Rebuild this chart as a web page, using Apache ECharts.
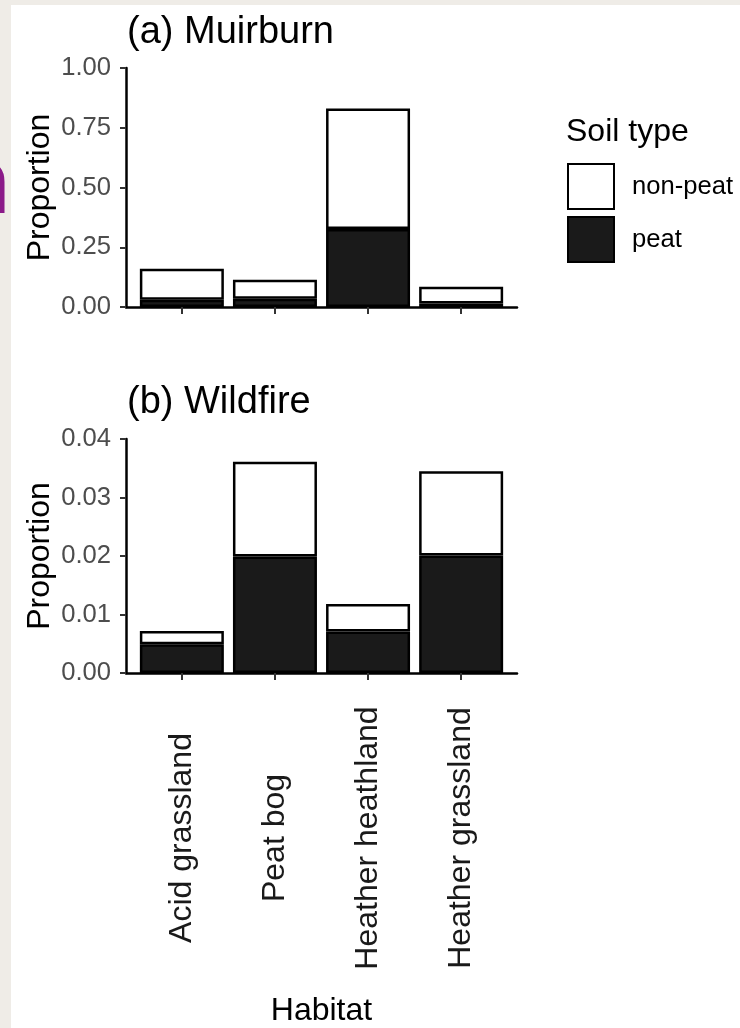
<!DOCTYPE html>
<html>
<head>
<meta charset="utf-8">
<script src="https://cdn.jsdelivr.net/npm/echarts@6/dist/echarts.min.js"></script>
<style>
    html, body { margin: 0; padding: 0; background: #efece7; }
    #paper { position: absolute; left: 11px; top: 5px; width: 729px; height: 1023px; background: #fff; }
    #chart { position: absolute; left: 0; top: 0; width: 740px; height: 1028px; }
</style>
</head>
<body>
<div id="paper"></div>
<div id="chart"></div>
<script>
var habitats = ['Acid grassland', 'Peat bog', 'Heather heathland', 'Heather grassland'];
var positions = [1, 2, 3, 4];

// (a) Muirburn, proportion of area
var muirburnPeat = [0.030, 0.035, 0.326, 0.015];
var muirburnNonPeat = [0.130, 0.079, 0.505, 0.070];

// (b) Wildfire
var wildfirePeat = [0.0049, 0.0199, 0.0071, 0.0201];
var wildfireNonPeat = [0.0023, 0.0162, 0.0047, 0.0144];

var muirburnTicks = [0, 0.25, 0.5, 0.75, 1];
var wildfireTicks = [0, 0.01, 0.02, 0.03, 0.04];

var font = "'Liberation Sans', Arial, sans-serif";

// value first so that the stack is done on y
var toPairs = function(vals) {
    return positions.map(function(p, i) {
        return [vals[i], p];
    });
};

var xAxisOf = function(idx, showLabels) {
    return {
        type: 'value',
        gridIndex: idx,
        min: 0.4,
        max: 4.6,
        splitLine: { show: false },
        axisLine: { onZero: false, lineStyle: { color: '#000', width: 2.5 } },
        axisTick: { customValues: positions, length: 7, lineStyle: { color: '#333', width: 2 } },
        axisLabel: showLabels ? {
            customValues: positions,
            formatter: function(v) { return habitats[Math.round(v) - 1]; },
            rotate: 90,
            align: 'center',
            verticalAlign: 'middle',
            margin: 165,
            fontSize: 32,
            color: '#1a1a1a',
            fontFamily: font
        } : { show: false },
        name: showLabels ? 'Habitat' : '',
        nameLocation: 'middle',
        nameGap: 322,
        nameTextStyle: { fontSize: 32, color: '#000', fontFamily: font }
    };
};

var yAxisOf = function(idx, ticks) {
    return {
        type: 'value',
        gridIndex: idx,
        min: ticks[0],
        max: ticks[ticks.length - 1],
        splitLine: { show: false },
        axisLine: { show: true, onZero: false, lineStyle: { color: '#000', width: 2.5 } },
        axisTick: { show: true, customValues: ticks, length: 6, lineStyle: { color: '#333', width: 2 } },
        axisLabel: {
            customValues: ticks,
            formatter: function(v) { return v.toFixed(2); },
            margin: 15,
            fontSize: 25.6,
            color: '#4d4d4d',
            fontFamily: font
        },
        name: 'Proportion',
        nameLocation: 'middle',
        nameGap: 70,
        nameMoveOverlap: false,
        nameTextStyle: { fontSize: 32, color: '#000', fontFamily: font }
    };
};

var barOf = function(name, idx, vals, fill) {
    return {
        name: name,
        type: 'bar',
        xAxisIndex: idx,
        yAxisIndex: idx,
        stack: 'soil' + idx,
        barWidth: 84,
        encode: { x: 1, y: 0 },
        itemStyle: { color: fill, borderColor: '#000', borderWidth: 2.5 },
        data: toPairs(vals)
    };
};

var chart = echarts.init(document.getElementById('chart'));
var option = {
    backgroundColor: 'transparent',
    animation: false,
    textStyle: { fontFamily: font },
    title: [{
        text: '(a) Muirburn',
        left: 127, top: 14, padding: 0,
        textStyle: { fontSize: 38, fontWeight: 'normal', color: '#000', fontFamily: font }
    }, {
        text: '(b) Wildfire',
        left: 127, top: 384, padding: 0,
        textStyle: { fontSize: 38, fontWeight: 'normal', color: '#000', fontFamily: font }
    }, {
        text: 'Soil type',
        left: 566, top: 116, padding: 0,
        textStyle: { fontSize: 32, fontWeight: 'normal', color: '#000', fontFamily: font }
    }],
    legend: {
        data: ['non-peat', 'peat'],
        orient: 'vertical',
        left: 567, top: 163,
        padding: 0,
        icon: 'rect',
        itemWidth: 46,
        itemHeight: 45,
        itemGap: 6,
        selectedMode: false,
        itemStyle: { borderColor: '#000', borderWidth: 2 },
        textStyle: { fontSize: 25.6, color: '#000', fontFamily: font, padding: [0, 0, 0, 13] }
    },
    grid: [
        { left: 126, top: 68, width: 391, height: 239 },
        { left: 126, top: 439, width: 391, height: 238 }
    ],
    xAxis: [xAxisOf(0, false), xAxisOf(1, true)],
    yAxis: [yAxisOf(0, muirburnTicks), yAxisOf(1, wildfireTicks)],
    series: [
        barOf('peat', 0, muirburnPeat, '#1a1a1a'),
        barOf('non-peat', 0, muirburnNonPeat, '#ffffff'),
        barOf('peat', 1, wildfirePeat, '#1a1a1a'),
        barOf('non-peat', 1, wildfireNonPeat, '#ffffff')
    ],
    graphic: [{
        // stray purple letter cut off at the left page edge
        type: 'text',
        left: -46, top: 142,
        style: { text: 'n', font: "bold 92px 'Liberation Sans', Arial, sans-serif", fill: '#8b1a89' }
    }]
};
chart.setOption(option);
window.onresize = chart.resize;
</script>
</body>
</html>
